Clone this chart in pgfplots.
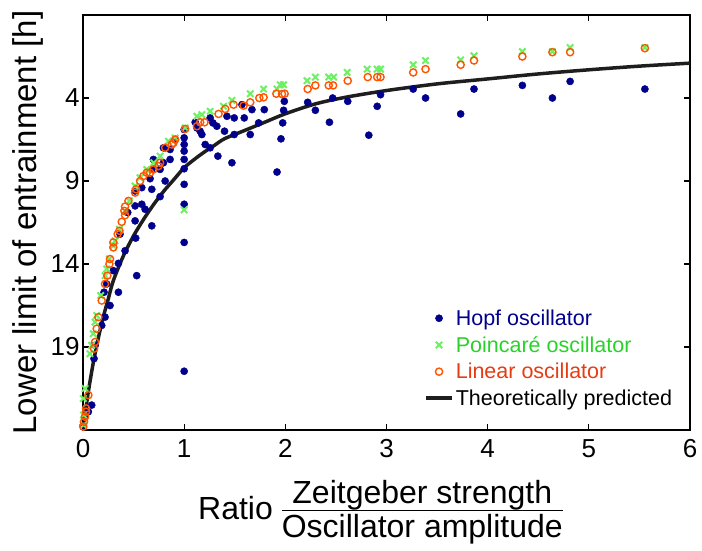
\documentclass[border=0pt]{standalone}
\usepackage{fontspec}
\setmainfont{Liberation Sans}
\usepackage{pgfplots}
\pgfplotsset{compat=1.18}

\definecolor{hopf}{RGB}{0,0,140}
\definecolor{poinc}{RGB}{110,240,100}
\definecolor{poinctext}{RGB}{40,210,40}
\definecolor{linosc}{RGB}{255,85,0}
\definecolor{lintext}{RGB}{230,60,20}
\definecolor{theo}{RGB}{30,30,30}

\setlength{\arrayrulewidth}{1.5pt}
\renewcommand{\arraystretch}{0.5}

\begin{document}
\begin{tikzpicture}
\begin{axis}[
  scale only axis,
  width=607pt, height=415pt,
  xmin=0, xmax=6, ymin=-1, ymax=24,
  y dir=reverse,
  xtick={0,1,2,3,4,5,6},
  ytick={4,9,14,19},
  tick align=inside, tick pos=both,
  major tick length=6pt,
  axis line style={line width=1.8pt},
  every tick/.style={line width=1.2pt, black},
  /pgf/number format/assume math mode=true,
  ticklabel style={font=\fontsize{26}{30}\selectfont},
  xticklabel style={yshift=-6pt},
  ylabel style={font=\fontsize{33}{38}\selectfont},
  xlabel style={font=\fontsize{32}{37}\selectfont, yshift=-15pt, xshift=-6pt},
  ylabel={Lower limit of entrainment [h]},
  xlabel={Ratio \raisebox{16pt}{\begin{tabular}[t]{@{}c@{}}Zeitgeber strength\\[1pt]\hline\rule{0pt}{26pt}Oscillator amplitude\end{tabular}}},
  legend style={at={(0.557,0.30)}, anchor=north west, draw=none, fill=none,
    font=\fontsize{21.5}{24}\selectfont, row sep=5.5pt},
  legend cell align=left,
  legend image code/.code={\draw[mark repeat=2,mark phase=2,#1] plot coordinates {(0pt,0pt) (13pt,0pt) (26pt,0pt)};},
]

% Hopf oscillator
\addplot[only marks, mark=*, mark size=3.6pt, draw=hopf, fill=hopf] coordinates {
  (0.003,23.7) (0.02,23.2) (0.053,22.9) (0.086,22.5)
  (0.109,19.7) (0.119,18.9) (0.185,17.7) (0.218,17.2) (0.267,16.5)
  (0.208,15.7) (0.35,15.7) (0.234,15.2) (0.531,14.7) (0.30,14.4)
  (0.35,13.96) (0.416,13.2) (0.521,12.44) (0.366,12.2) (0.68,11.7)
  (0.515,11.4) (0.442,10.9) (0.614,10.7) (0.515,10.5) (0.515,9.6)
  (0.581,10.4) (0.581,9.4) (0.68,9.5) (0.762,9.94) (0.663,8.86)
  (0.68,8.3) (0.696,7.7) (0.762,8.3) (0.795,7.9) (0.795,7.0)
  (0.861,7.7) (0.861,7.1) (0.911,6.5) (0.812,9.0)
  (1.0,5.9) (1.0,6.4) (1.0,6.8) (1.0,7.2) (1.0,7.7) (1.0,8.26)
  (1.0,9.2) (1.0,10.4) (1.0,12.7) (1.0,20.46)
  (1.109,5.46) (1.126,5.8) (1.158,6.0) (1.175,6.2) (1.208,6.8)
  (1.257,5.2) (1.257,7.0) (1.284,5.5) (1.323,5.7) (1.333,7.5)
  (1.399,6.0) (1.423,5.1) (1.472,7.9) (1.495,6.2) (1.495,5.2)
  (1.571,4.4) (1.594,5.2)
  (1.653,6.2) (1.67,4.7) (1.736,5.5) (1.792,4.7) (1.918,8.46)
  (1.957,6.46) (1.974,5.5) (1.983,4.74) (1.99,4.2)
  (2.221,4.26) (2.297,4.74) (2.436,5.46) (2.468,4.0) (2.617,4.2)
  (2.825,6.24) (2.908,4.5) (2.941,3.8) (3.264,3.46) (3.386,4.0)
  (3.733,4.96) (3.865,3.46) (4.343,3.24) (4.64,4.0) (4.815,3.0)
  (5.554,3.46)
};
\addlegendentry{\textcolor{hopf}{Hopf oscillator}}

% Poincare oscillator
\addplot[only marks, mark=x, mark size=4.5pt, line width=2pt, color=poinc] coordinates {
  (0.005,23.7) (0.005,23.1) (0.003,22.1) (0.02,21.5) (0.069,19.4)
  (0.086,18.9) (0.102,18.2) (0.119,17.5) (0.135,17.1) (0.175,15.9)
  (0.218,14.7) (0.234,14.3) (0.261,13.7) (0.30,12.9) (0.317,12.6)
  (0.36,11.9) (0.416,10.8) (0.459,10.2) (0.515,9.3) (0.564,8.8)
  (0.63,8.3) (0.70,7.9) (0.762,7.5) (0.845,6.6) (0.911,6.4)
  (1.01,5.8) (1.0,10.74) (1.126,5.1) (1.175,5.0) (1.257,4.8)
  (1.389,4.5) (1.472,4.14) (1.653,3.74) (1.785,3.46) (1.918,3.46)
  (1.95,3.2) (1.983,3.2) (2.215,2.96) (2.297,2.74) (2.429,2.74)
  (2.478,2.74) (2.611,2.46) (2.809,2.26) (2.908,2.26) (2.941,2.26)
  (3.264,2.0) (3.386,1.74) (3.733,1.7) (3.865,1.46) (4.343,1.2)
  (4.64,1.2) (4.815,0.96) (5.554,0.96)
};
\addlegendentry{\textcolor{poinctext}{Poincaré oscillator}}

% Linear oscillator
\addplot[only marks, mark=o, mark size=3.6pt, line width=1.4pt, color=linosc] coordinates {
  (0.003,23.8) (0.01,23.5) (0.02,23.2) (0.03,22.9) (0.03,22.7)
  (0.053,21.9) (0.109,19.1) (0.119,18.7) (0.135,17.9) (0.152,17.2)
  (0.185,16.2) (0.218,15.2) (0.241,14.7) (0.261,14.0) (0.267,13.7)
  (0.30,13.0) (0.30,12.7) (0.343,12.2) (0.36,12.0) (0.383,11.46)
  (0.416,11.06) (0.409,10.8) (0.416,10.54) (0.449,10.2) (0.515,9.7)
  (0.525,9.5) (0.564,9.0) (0.597,8.7) (0.63,8.5) (0.663,8.5)
  (0.696,8.3) (0.746,8.1) (0.762,7.9) (0.812,7.0) (0.878,6.8)
  (0.894,6.7) (0.911,6.5) (1.01,5.86) (1.126,5.7) (1.158,5.46)
  (1.201,5.46) (1.34,4.96) (1.406,4.66) (1.488,4.4) (1.587,4.46)
  (1.653,4.26) (1.743,4.0) (1.785,3.96) (1.911,3.74) (1.967,3.76)
  (1.993,3.74) (2.221,3.46) (2.297,3.24) (2.429,3.24) (2.472,3.24)
  (2.617,2.96) (2.815,2.74) (2.908,2.74) (2.941,2.74) (3.264,2.46)
  (3.386,2.26) (3.733,2.0) (3.865,1.74) (4.343,1.5) (4.64,1.24)
  (4.815,1.24) (5.554,1.0)
};
\addlegendentry{\textcolor{lintext}{Linear oscillator}}

% theoretical curve
\addplot[theo, line width=3.5pt, smooth, no marks] coordinates {
  (0,24) (0.02,23.1) (0.05,21.8) (0.1,20.0) (0.15,18.5) (0.2,17.2)
  (0.25,16.1) (0.3,15.0) (0.4,13.5) (0.5,12.3) (0.6,11.3) (0.7,10.4)
  (0.8,9.6) (0.9,8.9) (1.0,8.2) (1.1,7.7) (1.2,7.25) (1.3,6.85)
  (1.4,6.45) (1.6,5.95) (1.8,5.45) (2.0,4.95) (2.3,4.35) (2.6,3.95)
  (3.0,3.55) (3.5,3.15) (4.0,2.85) (4.5,2.55) (5.0,2.3) (5.5,2.08)
  (6.0,1.9)
};
\addlegendentry{Theoretically predicted}

\end{axis}
\pgfresetboundingbox
\path[use as bounding box] ([xshift=-83pt,yshift=-120pt]current axis.south west) rectangle ++(702pt,550pt);
\end{tikzpicture}
\end{document}
